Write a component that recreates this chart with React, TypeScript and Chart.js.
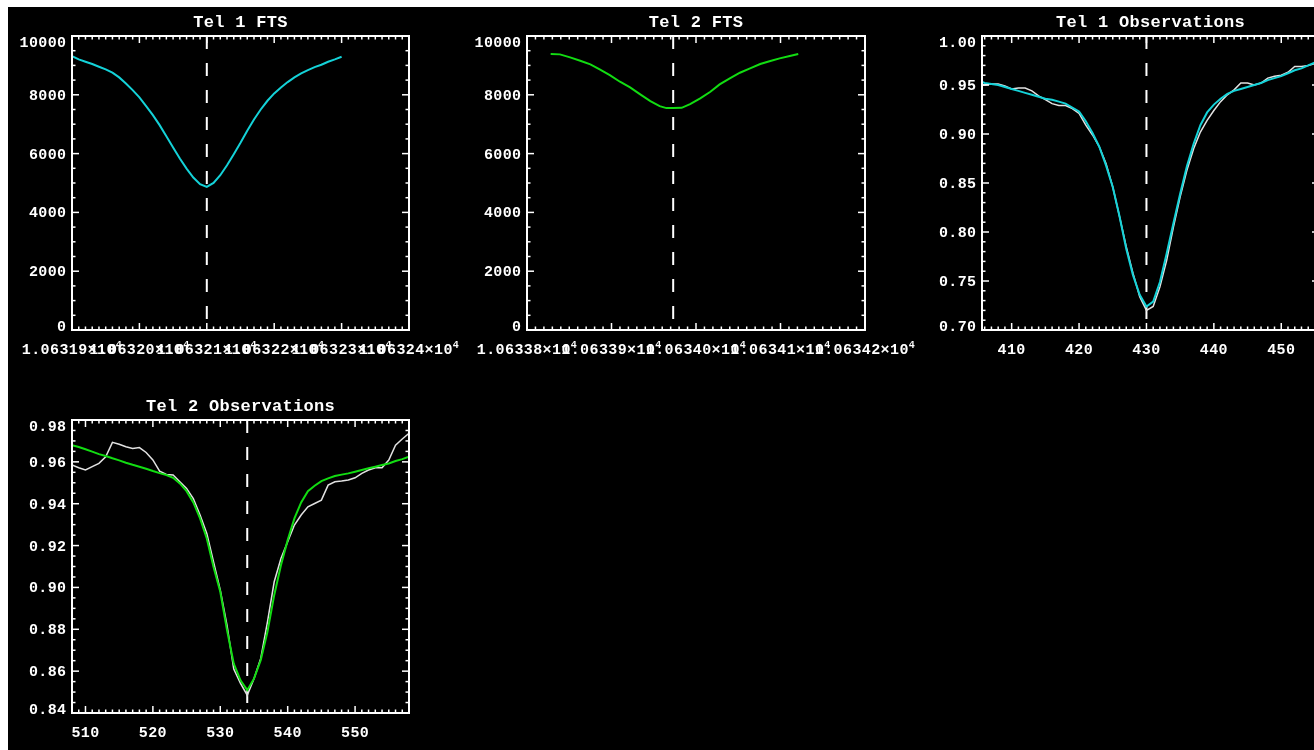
import React, { useEffect, useRef } from 'react';
import { Chart, registerables } from 'chart.js';

Chart.register(...registerables);

// ---------------- data ----------------
const tel1FtsWave = [
  10631.90, 10631.91, 10631.92, 10631.93, 10631.94, 10631.95, 10631.96, 10631.97, 10631.98, 10631.99,
  10632.00, 10632.01, 10632.02, 10632.03, 10632.04, 10632.05, 10632.06, 10632.07, 10632.08, 10632.09,
  10632.10, 10632.11, 10632.12, 10632.13, 10632.14, 10632.15, 10632.16, 10632.17, 10632.18, 10632.19,
  10632.20, 10632.21, 10632.22, 10632.23, 10632.24, 10632.25, 10632.26, 10632.27, 10632.28, 10632.29,
  10632.30,
];
const tel1FtsFlux = [
  9312, 9206, 9125, 9046, 8955, 8864, 8751, 8592, 8387, 8160,
  7910, 7615, 7308, 6968, 6593, 6207, 5832, 5491, 5185, 4957,
  4866, 5003, 5264, 5605, 5980, 6366, 6775, 7161, 7501, 7797,
  8047, 8251, 8433, 8592, 8728, 8842, 8943, 9023, 9125, 9205,
  9296,
];
const tel1FtsCenter = 10632.1;

const tel2FtsWave = [
  10633.828, 10633.839, 10633.851, 10633.863, 10633.875, 10633.886, 10633.898, 10633.910, 10633.922,
  10633.934, 10633.946, 10633.957, 10633.965, 10633.973, 10633.983, 10633.993, 10634.005, 10634.017,
  10634.028, 10634.040, 10634.052, 10634.064, 10634.076, 10634.088, 10634.099, 10634.111, 10634.121,
];
const tel2FtsFlux = [
  9387, 9375, 9273, 9159, 9035, 8864, 8671, 8444, 8251,
  8013, 7785, 7615, 7547, 7547, 7558, 7683, 7876, 8103,
  8353, 8558, 8751, 8898, 9046, 9148, 9239, 9319, 9387,
];
const tel2FtsCenter = 10633.973;

const tel1ObsPix = [
  405.6, 406, 407, 408, 409, 410, 411, 412, 413, 414, 415, 416, 417, 418, 419, 420, 421, 422, 423, 424, 425,
  426, 427, 428, 429, 430, 431, 432, 433, 434, 435, 436, 437, 438, 439, 440, 441, 442, 443, 444, 445,
  446, 447, 448, 449, 450, 451, 452, 453, 454, 455,
];
const tel1ObsData = [
  0.950, 0.950, 0.951, 0.951, 0.949, 0.946, 0.947, 0.947, 0.944, 0.939, 0.935, 0.931, 0.929, 0.929, 0.926,
  0.921, 0.909, 0.899, 0.887, 0.870, 0.846, 0.816, 0.785, 0.758, 0.734, 0.720, 0.724, 0.744, 0.771, 0.805,
  0.836, 0.863, 0.885, 0.902, 0.914, 0.924, 0.933, 0.940, 0.945, 0.952, 0.952, 0.950, 0.952, 0.957, 0.959,
  0.960, 0.963, 0.969, 0.969, 0.970, 0.972,
];
const tel1ObsFit = [
  0.953, 0.952, 0.951, 0.950, 0.948, 0.946, 0.944, 0.942, 0.940, 0.938, 0.936, 0.935, 0.933, 0.931, 0.927,
  0.923, 0.913, 0.901, 0.887, 0.868, 0.846, 0.816, 0.783, 0.756, 0.736, 0.724, 0.729, 0.749, 0.778, 0.809,
  0.839, 0.867, 0.890, 0.909, 0.922, 0.930, 0.936, 0.941, 0.944, 0.946, 0.948, 0.950, 0.952, 0.955, 0.957,
  0.959, 0.962, 0.965, 0.967, 0.970, 0.973,
];
const tel1ObsCenter = 430;

const tel2ObsPix = [
  508, 509, 510, 511, 512, 513, 514, 515, 516, 517, 518, 519, 520, 521, 522, 523, 524, 525, 526, 527,
  528, 529, 530, 531, 532, 533, 534, 535, 536, 537, 538, 539, 540, 541, 542, 543, 544, 545, 546, 547,
  548, 549, 550, 551, 552, 553, 554, 555, 556, 557, 558,
];
const tel2ObsData = [
  0.9585, 0.9572, 0.9561, 0.9577, 0.9593, 0.9624, 0.9693, 0.9684, 0.9672, 0.9664, 0.9668, 0.9645, 0.9609,
  0.9556, 0.9540, 0.9537, 0.9505, 0.9473, 0.9425, 0.9346, 0.9258, 0.9122, 0.8987, 0.8819, 0.8610, 0.8541,
  0.8485, 0.8564, 0.8660, 0.8835, 0.9027, 0.9138, 0.9218, 0.9298, 0.9346, 0.9385, 0.9401, 0.9417, 0.9489,
  0.9505, 0.9508, 0.9513, 0.9524, 0.9545, 0.9561, 0.9572, 0.9572, 0.9609, 0.9680, 0.9709, 0.9736,
];
const tel2ObsFit = [
  0.9680, 0.9671, 0.9660, 0.9649, 0.9637, 0.9628, 0.9617, 0.9607, 0.9596, 0.9586, 0.9577, 0.9567, 0.9556,
  0.9546, 0.9537, 0.9524, 0.9497, 0.9460, 0.9406, 0.9330, 0.9234, 0.9098, 0.8979, 0.8796, 0.8636, 0.8556,
  0.8509, 0.8564, 0.8652, 0.8788, 0.8963, 0.9106, 0.9226, 0.9330, 0.9406, 0.9460, 0.9486, 0.9508, 0.9521,
  0.9532, 0.9539, 0.9545, 0.9553, 0.9561, 0.9569, 0.9577, 0.9585, 0.9592, 0.9604, 0.9613, 0.9625,
];
const tel2ObsCenter = 534;

// ticks & labels
const ftsYTicks = [0, 2000, 4000, 6000, 8000, 10000];
const ftsYLabels = ['0', '2000', '4000', '6000', '8000', '10000'];
const tel1FtsXTicks = [10631.9, 10632.0, 10632.1, 10632.2, 10632.3, 10632.4];
const tel1FtsXLabels = ['1.06319×10⁴', '1.06320×10⁴', '1.06321×10⁴', '1.06322×10⁴', '1.06323×10⁴', '1.06324×10⁴'];
const tel2FtsXTicks = [10633.8, 10633.9, 10634.0, 10634.1, 10634.2];
const tel2FtsXLabels = ['1.06338×10⁴', '1.06339×10⁴', '1.06340×10⁴', '1.06341×10⁴', '1.06342×10⁴'];
const tel1ObsXTicks = [410, 420, 430, 440, 450];
const tel1ObsXLabels = ['410', '420', '430', '440', '450'];
const tel1ObsYTicks = [0.70, 0.75, 0.80, 0.85, 0.90, 0.95, 1.00];
const tel1ObsYLabels = ['0.70', '0.75', '0.80', '0.85', '0.90', '0.95', '1.00'];
const tel2ObsXTicks = [510, 520, 530, 540, 550];
const tel2ObsXLabels = ['510', '520', '530', '540', '550'];
const tel2ObsYTicks = [0.84, 0.86, 0.88, 0.90, 0.92, 0.94, 0.96, 0.98];
const tel2ObsYLabels = ['0.84', '0.86', '0.88', '0.90', '0.92', '0.94', '0.96', '0.98'];

// ---------------- layout / style ----------------
const CW = 1320;
const CH = 743;
const TICK_FONT = 'bold 15px "Liberation Mono", "DejaVu Sans Mono", monospace';
const SUP_FONT = 'bold 10px "Liberation Mono", "DejaVu Sans Mono", monospace';
const TITLE_FONT = 'bold 17px "Liberation Mono", "DejaVu Sans Mono", monospace';
const CYAN = '#14d2d8';
const GREEN = '#12dc12';
const OBS = '#e2e2e2';

type PanelCfg = {
  key: string;
  title: string;
  area: { l: number; t: number; r: number; b: number };
  xMin: number; xMax: number; yMin: number; yMax: number;
  xTicks: number[]; xLabels: string[]; xMinorStep: number; xMajorStep: number;
  yTicks: number[]; yLabels: string[]; yMinorStep: number; yMajorStep: number;
  center: number;
  obs?: { x: number[]; y: number[] };
  fit: { x: number[]; y: number[]; color: string };
};

const panels: PanelCfg[] = [
  {
    key: 'p1', title: 'Tel 1 FTS', area: { l: 64, t: 29, r: 401, b: 323 },
    xMin: 10631.9, xMax: 10632.4, yMin: 0, yMax: 10000,
    xTicks: tel1FtsXTicks, xLabels: tel1FtsXLabels, xMinorStep: 0.01, xMajorStep: 0.1,
    yTicks: ftsYTicks, yLabels: ftsYLabels, yMinorStep: 500, yMajorStep: 2000,
    center: tel1FtsCenter,
    fit: { x: tel1FtsWave, y: tel1FtsFlux, color: CYAN },
  },
  {
    key: 'p2', title: 'Tel 2 FTS', area: { l: 519, t: 29, r: 857, b: 323 },
    xMin: 10633.8, xMax: 10634.2, yMin: 0, yMax: 10000,
    xTicks: tel2FtsXTicks, xLabels: tel2FtsXLabels, xMinorStep: 0.01, xMajorStep: 0.1,
    yTicks: ftsYTicks, yLabels: ftsYLabels, yMinorStep: 500, yMajorStep: 2000,
    center: tel2FtsCenter,
    fit: { x: tel2FtsWave, y: tel2FtsFlux, color: GREEN },
  },
  {
    key: 'p3', title: 'Tel 1 Observations', area: { l: 974, t: 29, r: 1311, b: 323 },
    xMin: 405.6, xMax: 455.6, yMin: 0.70, yMax: 1.00,
    xTicks: tel1ObsXTicks, xLabels: tel1ObsXLabels, xMinorStep: 1, xMajorStep: 10,
    yTicks: tel1ObsYTicks, yLabels: tel1ObsYLabels, yMinorStep: 0.01, yMajorStep: 0.05,
    center: tel1ObsCenter,
    obs: { x: tel1ObsPix, y: tel1ObsData },
    fit: { x: tel1ObsPix, y: tel1ObsFit, color: CYAN },
  },
  {
    key: 'p4', title: 'Tel 2 Observations', area: { l: 64, t: 413, r: 401, b: 706 },
    xMin: 508, xMax: 558, yMin: 0.84, yMax: 0.98,
    xTicks: tel2ObsXTicks, xLabels: tel2ObsXLabels, xMinorStep: 1, xMajorStep: 10,
    yTicks: tel2ObsYTicks, yLabels: tel2ObsYLabels, yMinorStep: 0.005, yMajorStep: 0.02,
    center: tel2ObsCenter,
    obs: { x: tel2ObsPix, y: tel2ObsData },
    fit: { x: tel2ObsPix, y: tel2ObsFit, color: GREEN },
  },
];

function zip(xs: number[], ys: number[]) {
  return xs.map((x, i) => ({ x, y: ys[i] }));
}

function drawXLabel(ctx: CanvasRenderingContext2D, text: string, cx: number, baseline: number) {
  const hasSup = text.endsWith('⁴');
  const main = hasSup ? text.slice(0, -1) : text;
  ctx.font = TICK_FONT;
  const wMain = ctx.measureText(main).width;
  ctx.font = SUP_FONT;
  const wSup = hasSup ? ctx.measureText('4').width : 0;
  const x0 = cx - (wMain + wSup) / 2;
  ctx.textAlign = 'left';
  ctx.textBaseline = 'alphabetic';
  ctx.font = TICK_FONT;
  ctx.fillText(main, x0, baseline);
  if (hasSup) {
    ctx.font = SUP_FONT;
    ctx.fillText('4', x0 + wMain, baseline - 6);
  }
}

function idlAxesPlugin(cfg: PanelCfg) {
  return {
    id: 'idlAxes' + cfg.key,
    afterDatasetsDraw(chart: any) {
      const ctx: CanvasRenderingContext2D = chart.ctx;
      const a = chart.chartArea;
      const xs = chart.scales.x;
      const ys = chart.scales.y;
      ctx.save();
      ctx.strokeStyle = '#ffffff';
      ctx.fillStyle = '#ffffff';
      const seg = (x1: number, y1: number, x2: number, y2: number) => {
        ctx.beginPath();
        ctx.moveTo(x1, y1);
        ctx.lineTo(x2, y2);
        ctx.stroke();
      };
      const majLen = 7;
      const minLen = 3.5;
      ctx.lineWidth = 1.5;
      // x ticks (minor + major), bottom and top
      const nx = Math.round(cfg.xMajorStep / cfg.xMinorStep);
      for (let i = -nx; i <= (cfg.xTicks.length + 1) * nx; i++) {
        const v = cfg.xTicks[0] + i * cfg.xMinorStep;
        if (v < cfg.xMin - 1e-9 || v > cfg.xMax + 1e-9) continue;
        const px = xs.getPixelForValue(v);
        const len = i % nx === 0 ? majLen : minLen;
        seg(px, a.bottom, px, a.bottom - len);
        seg(px, a.top, px, a.top + len);
      }
      const ny = Math.round(cfg.yMajorStep / cfg.yMinorStep);
      for (let i = -ny; i <= (cfg.yTicks.length + 1) * ny; i++) {
        const v = cfg.yTicks[0] + i * cfg.yMinorStep;
        if (v < cfg.yMin - 1e-9 || v > cfg.yMax + 1e-9) continue;
        const py = ys.getPixelForValue(v);
        const len = i % ny === 0 ? majLen : minLen;
        seg(a.left, py, a.left + len, py);
        seg(a.right, py, a.right - len, py);
      }
      // frame
      ctx.lineWidth = 2;
      ctx.strokeRect(a.left, a.top, a.right - a.left, a.bottom - a.top);

      // labels
      (ctx as any).letterSpacing = '0.4px';
      cfg.xTicks.forEach((v, i) => {
        drawXLabel(ctx, cfg.xLabels[i], xs.getPixelForValue(v), a.bottom + 23.5);
      });
      ctx.font = TICK_FONT;
      ctx.textAlign = 'right';
      ctx.textBaseline = 'alphabetic';
      cfg.yTicks.forEach((v, i) => {
        const py = ys.getPixelForValue(v);
        const base = Math.min(Math.max(py + 5, a.top + 10.5), a.bottom + 0.5);
        ctx.fillText(cfg.yLabels[i], a.left - 5.5, base);
      });
      // title
      (ctx as any).letterSpacing = '0.3px';
      ctx.font = TITLE_FONT;
      ctx.textAlign = 'center';
      ctx.fillText(cfg.title, (a.left + a.right) / 2, a.top - 9.5);
      ctx.restore();
    },
  };
}

function buildConfig(cfg: PanelCfg): any {
  const datasets: any[] = [
    {
      data: zip(cfg.fit.x, cfg.fit.y),
      borderColor: cfg.fit.color,
      borderWidth: 2,
      pointRadius: 0,
      tension: 0,
      fill: false,
    },
  ];
  if (cfg.obs) {
    datasets.push({
      data: zip(cfg.obs.x, cfg.obs.y),
      borderColor: OBS,
      borderWidth: 1.5,
      pointRadius: 0,
      tension: 0,
      fill: false,
    });
  }
  datasets.push({
    data: [
      { x: cfg.center, y: cfg.yMax },
      { x: cfg.center, y: cfg.yMin },
    ],
    borderColor: '#ffffff',
    borderWidth: 2,
    borderDash: [13, 14],
    pointRadius: 0,
    fill: false,
  });
  const { l, t, r, b } = cfg.area;
  return {
    type: 'line',
    data: { datasets },
    options: {
      animation: false,
      responsive: false,
      devicePixelRatio: 1,
      events: [],
      layout: { padding: { left: l, top: t, right: CW - r, bottom: CH - b } },
      plugins: {
        legend: { display: false },
        tooltip: { enabled: false },
        title: { display: false },
      },
      scales: {
        x: { type: 'linear', min: cfg.xMin, max: cfg.xMax, display: false },
        y: { type: 'linear', min: cfg.yMin, max: cfg.yMax, display: false },
      },
    },
    plugins: [idlAxesPlugin(cfg)],
  };
}

function Panel({ cfg }: { cfg: PanelCfg }) {
  const ref = useRef<HTMLCanvasElement>(null);
  useEffect(() => {
    if (!ref.current) return;
    const chart = new Chart(ref.current, buildConfig(cfg));
    return () => chart.destroy();
  }, [cfg]);
  return (
    <canvas
      ref={ref}
      width={CW}
      height={CH}
      style={{ position: 'absolute', left: 0, top: 0, width: CW, height: CH }}
    />
  );
}

export default function App() {
  useEffect(() => {
    document.documentElement.style.overflow = 'hidden';
  }, []);
  return (
    <div
      style={{
        position: 'fixed',
        left: 8,
        top: 7,
        right: 0,
        bottom: 0,
        background: '#000000',
        overflow: 'hidden',
      }}
    >
      {panels.map((p) => (
        <Panel key={p.key} cfg={p} />
      ))}
    </div>
  );
}
